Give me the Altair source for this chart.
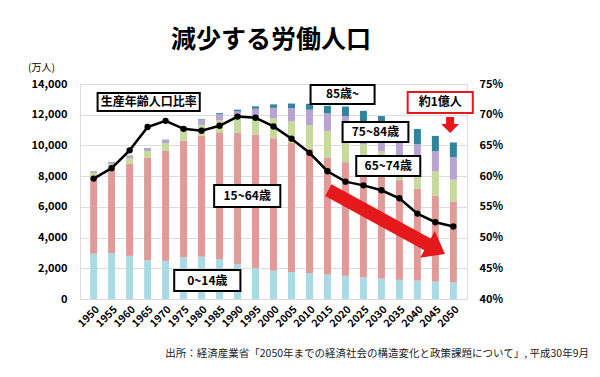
import altair as alt
import pandas as pd

# ---------------- data (万人) ----------------
years = list(range(1950, 2051, 5))
age_0_14 = [2943, 2980, 2807, 2517, 2482, 2722, 2751, 2603, 2249, 2001, 1847,
            1752, 1680, 1589, 1508, 1407, 1321, 1246, 1194, 1138, 1077]
age_15_64 = [4966, 5473, 6000, 6693, 7157, 7581, 7884, 8251, 8590, 8717, 8622,
             8409, 8103, 7628, 7406, 7170, 6875, 6494, 5978, 5584, 5275]
age_65_74 = [309, 336, 371, 429, 508, 603, 699, 776, 892, 1109, 1303,
             1403, 1518, 1730, 1747, 1497, 1428, 1522, 1550, 1600, 1424]
age_75_84 = [98, 126, 145, 166, 194, 242, 313, 397, 482, 564, 677,
             871, 1024, 1144, 1252, 1460, 1458, 1270, 1350, 1300, 1450]
age_85_up = [9, 13, 19, 23, 31, 42, 53, 74, 115, 153, 224,
             293, 383, 488, 620, 720, 830, 990, 1000, 1000, 966]
working_ratio = [59.6, 61.3, 64.2, 68.0, 69.0, 67.7, 67.4, 68.2, 69.7, 69.5, 68.1,
                 66.1, 63.8, 60.8, 59.1, 58.5, 57.7, 56.4, 53.9, 52.5, 51.8]

series_names = ["0~14歳", "15~64歳", "65~74歳", "75~84歳", "85歳~"]
series_values = [age_0_14, age_15_64, age_65_74, age_75_84, age_85_up]
series_colors = ["#a9dbe5", "#e09b99", "#c6da9b", "#b8a3d3", "#31849b"]

left_ticks = list(range(0, 14001, 2000))
right_ticks = list(range(40, 76, 5))

title_text = "減少する労働人口"
unit_text = "(万人)"
source_text = "出所：経済産業省「2050年までの経済社会の構造変化と政策課題について」, 平成30年9月"

# annotation boxes (data coordinates)
box_labels = ["生産年齢人口比率", "15~64歳", "0~14歳", "85歳~", "75~84歳", "65~74歳", "約1億人"]
box_x1 = [1951.1, 1983.5, 1972.4, 2010.3, 2019.2, 2023.0, 2037.3]
box_x2 = [1979.5, 2001.9, 1990.8, 2028.1, 2037.5, 2040.8, 2055.4]
box_y1 = [12242, 5991, 521, 12698, 10223, 8009, 12112]
box_y2 = [13414, 7423, 1888, 13935, 11526, 9312, 13479]
box_kind = ["black", "black", "black", "black", "black", "black", "red"]

RED = "#e5191c"

# ---------------- tables ----------------
rows = []
for i, yr in enumerate(years):
    for k, (name, vals) in enumerate(zip(series_names, series_values)):
        rows.append({"year": yr, "group": name, "value": vals[i], "ord": k})
bars_df = pd.DataFrame(rows)
line_df = pd.DataFrame({"year": years, "ratio": working_ratio})
box_df = pd.DataFrame({"label": box_labels, "x1": box_x1, "x2": box_x2,
                       "y1": box_y1, "y2": box_y2, "kind": box_kind})
box_df["xc"] = (box_df["x1"] + box_df["x2"]) / 2
box_df["yc"] = (box_df["y1"] + box_df["y2"]) / 2

FONT = "Noto Sans CJK JP"
xscale = alt.Scale(domain=[1947.6, 2052.4], nice=False, zero=False)
yscale = alt.Scale(domain=[0, 14000], nice=False, zero=True)
pscale = alt.Scale(domain=[40, 75], nice=False, zero=False)

x_axis = alt.Axis(values=years, labelExpr="format(datum.value, 'd')", labelAngle=315,
                  labelFontWeight="bold", labelOverlap=False, labelFlush=False,
                  labelFontSize=10.5, labelColor="black", ticks=False, grid=False,
                  domain=True, domainColor="#d9d9d9", title=None, labelPadding=5,
                  labelFont=FONT)

def X(field):
    return alt.X(field, scale=xscale, axis=x_axis)

bars = alt.Chart(bars_df).mark_bar(size=7).encode(
    x=X("year:Q"),
    y=alt.Y("value:Q", stack="zero", scale=yscale,
            axis=alt.Axis(values=left_ticks, labelExpr="format(datum.value, ',')",
                          title=None, ticks=False, labelOverlap=False, labelFlush=False,
                          domain=False, grid=True, gridColor="#dcdcdc",
                          labelFontWeight="bold", labelFontSize=11, labelColor="black",
                          labelPadding=13, labelFont=FONT)),
    color=alt.Color("group:N", scale=alt.Scale(domain=series_names, range=series_colors),
                    legend=None),
    order=alt.Order("ord:Q", sort="ascending"),
)

line = alt.Chart(line_df).mark_line(color="black", strokeWidth=2.5).encode(
    x=X("year:Q"),
    y=alt.Y("ratio:Q", scale=pscale,
            axis=alt.Axis(orient="right", values=right_ticks,
                          labelExpr="datum.value + '%'", title=None, ticks=False,
                          labelOverlap=False, labelFlush=False,
                          domain=False, grid=False, labelFontWeight="bold",
                          labelFontSize=11, labelColor="black", labelPadding=12,
                          labelFont=FONT)),
)
pts = alt.Chart(line_df).mark_point(filled=True, color="black", size=40, opacity=1).encode(
    x=X("year:Q"),
    y=alt.Y("ratio:Q", scale=pscale, axis=None),
)

boxes = alt.Chart(box_df).mark_rect(fill="white", strokeWidth=2).encode(
    x=X("x1:Q"), x2="x2:Q",
    y=alt.Y("y1:Q", scale=yscale, axis=None), y2="y2:Q",
    stroke=alt.Stroke("kind:N", scale=alt.Scale(domain=["black", "red"],
                                                range=["black", RED]), legend=None),
)
box_text = alt.Chart(box_df).mark_text(fontSize=12, fontWeight="bold", font=FONT,
                                       color="black").encode(
    x=X("xc:Q"),
    y=alt.Y("yc:Q", scale=yscale, axis=None),
    text="label:N",
)

arrow_df = pd.DataFrame({"xa": [2031.45], "ya": [5014]})
big_arrow = alt.Chart(arrow_df).mark_point(
    shape="M-1,-0.1 L0.7,-0.1 L0.7,-0.23 L1,0 L0.7,0.23 L0.7,0.1 L-1,0.1 Z",
    filled=True, color=RED, opacity=1, size=17689, angle=28.7, strokeWidth=0,
).encode(x=X("xa:Q"), y=alt.Y("ya:Q", scale=yscale, axis=None))

small_df = pd.DataFrame({"xa": [2049.1], "ya": [11330]})
small_arrow = alt.Chart(small_df).mark_point(
    shape="M-0.45,-0.9 L0.45,-0.9 L0.45,-0.1 L1,-0.1 L0,0.9 L-1,-0.1 L-0.45,-0.1 Z",
    filled=True, color=RED, opacity=1, size=324, strokeWidth=0,
).encode(x=X("xa:Q"), y=alt.Y("ya:Q", scale=yscale, axis=None))

title_mark = alt.Chart(pd.DataFrame({"t": [title_text]})).mark_text(
    fontSize=25, fontWeight="bold", font=FONT, color="black", baseline="middle"
).encode(x=alt.value(191), y=alt.value(-44), text="t:N")

unit_mark = alt.Chart(pd.DataFrame({"t": [unit_text]})).mark_text(
    fontSize=10, font=FONT, color="black", align="left", baseline="middle"
).encode(x=alt.value(-52), y=alt.value(-16), text="t:N")

source_mark = alt.Chart(pd.DataFrame({"t": [source_text]})).mark_text(
    fontSize=10.5, font=FONT, color="#222222", align="right", baseline="middle"
).encode(x=alt.value(509), y=alt.value(270), text="t:N")

chart = alt.layer(
    bars, line, pts, big_arrow, boxes, box_text, small_arrow,
    title_mark, unit_mark, source_mark
).resolve_scale(y="independent").properties(
    width=387, height=215,
    autosize=alt.AutoSizeParams(type="none"),
    padding={"left": 72, "top": 76, "right": 125, "bottom": 70},
).configure_view(stroke=None).configure(font=FONT)

chart.save("out.html", embed_options={"renderer": "svg", "actions": False})
